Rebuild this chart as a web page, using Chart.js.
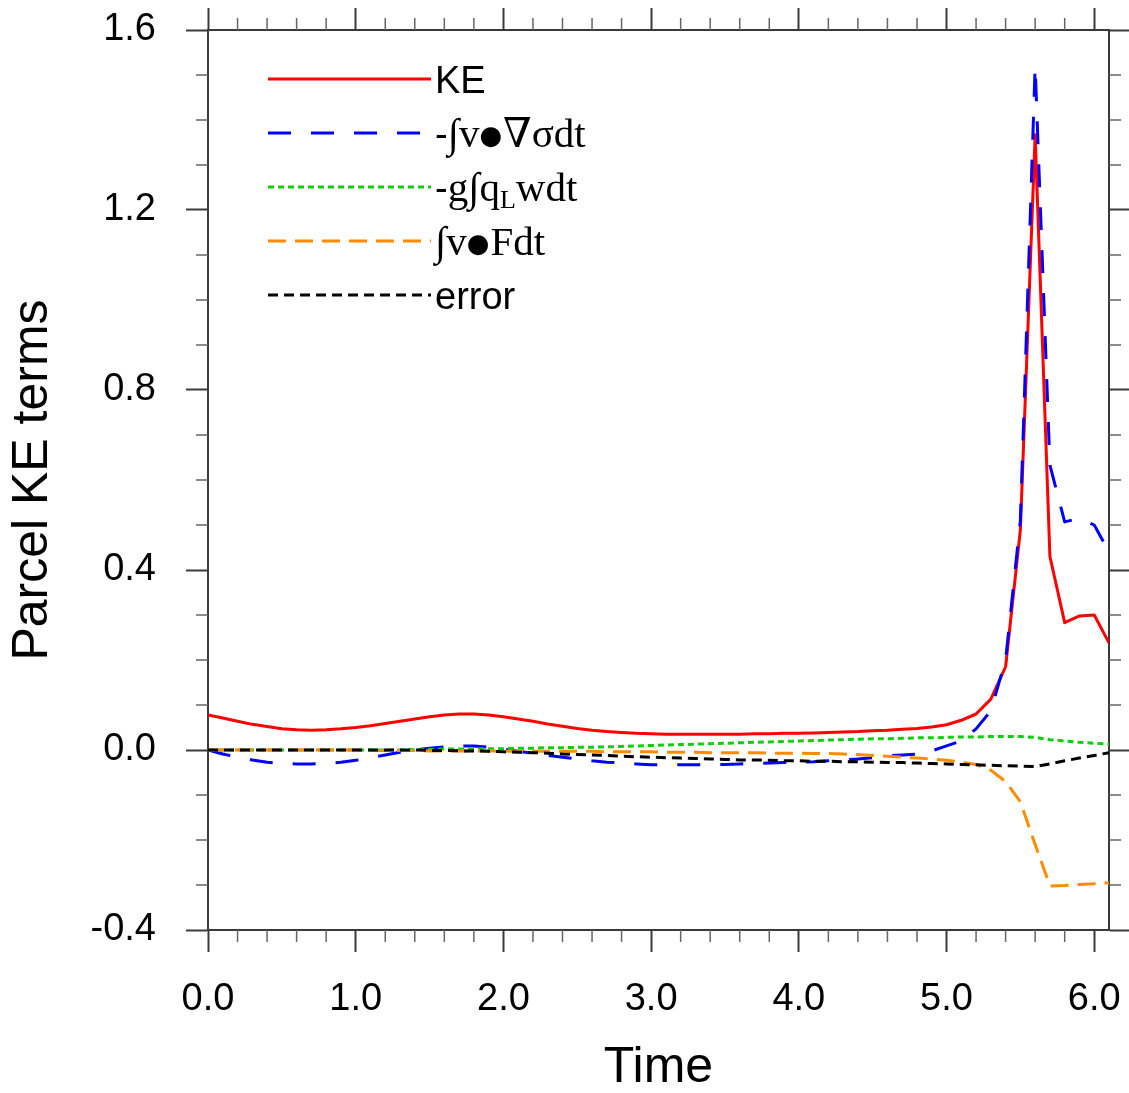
<!DOCTYPE html>
<html><head><meta charset="utf-8">
<script src="https://cdn.jsdelivr.net/npm/chart.js@4.4.1/dist/chart.umd.min.js"></script>
<style>html,body{margin:0;padding:0;background:#fff;overflow:hidden}</style>
</head><body>
<canvas id="c" width="1129" height="1093" style="display:block;width:1129px;height:1093px"></canvas>
<script>
// ---- data ----
const times = [0.0,0.1,0.2,0.3,0.4,0.5,0.6,0.7,0.8,0.9,
  1.0,1.1,1.2,1.3,1.4,1.5,1.6,1.7,1.8,1.9,
  2.0,2.1,2.2,2.3,2.4,2.5,2.6,2.7,2.8,2.9,
  3.0,3.1,3.2,3.3,3.4,3.5,3.6,3.7,3.8,3.9,
  4.0,4.1,4.2,4.3,4.4,4.5,4.6,4.7,4.8,4.9,
  5.0,5.1,5.2,5.3,5.4,5.5,5.6,5.7,5.8,5.9,
  6.0,6.1];
const keValues = [0.078,0.071,0.064,0.057,0.052,0.047,0.045,0.044,0.045,0.047,
  0.050,0.054,0.059,0.064,0.069,0.074,0.078,0.080,0.080,0.078,
  0.074,0.069,0.064,0.058,0.053,0.048,0.044,0.041,0.039,0.037,
  0.036,0.035,0.035,0.035,0.035,0.035,0.035,0.036,0.036,0.037,
  0.037,0.038,0.039,0.040,0.041,0.043,0.044,0.046,0.048,0.051,
  0.056,0.066,0.080,0.113,0.185,0.489,1.367,0.430,0.283,0.298,
  0.300,0.238];
const pressureValues = [0.000,-0.009,-0.016,-0.022,-0.027,-0.030,-0.031,-0.031,-0.030,-0.027,
  -0.023,-0.017,-0.011,-0.005,0.000,0.004,0.007,0.009,0.009,0.006,
  0.002,-0.003,-0.007,-0.012,-0.016,-0.020,-0.024,-0.027,-0.029,-0.031,
  -0.033,-0.033,-0.033,-0.033,-0.032,-0.032,-0.031,-0.030,-0.029,-0.028,
  -0.027,-0.026,-0.024,-0.022,-0.020,-0.017,-0.013,-0.011,-0.009,-0.002,
  0.009,0.020,0.047,0.087,0.200,0.510,1.520,0.633,0.507,0.515,
  0.500,0.440];
const loadingValues = [0,0,0,0,0,0,0,0,0,0,
  0,0,0,0,0.001,0.001,0.002,0.002,0.002,0.003,
  0.003,0.004,0.004,0.005,0.005,0.006,0.006,0.007,0.008,0.009,
  0.010,0.011,0.012,0.013,0.014,0.015,0.016,0.017,0.018,0.019,
  0.020,0.021,0.022,0.023,0.024,0.025,0.025,0.026,0.027,0.027,
  0.028,0.029,0.029,0.030,0.030,0.030,0.028,0.023,0.020,0.017,
  0.015,0.013];
const frictionValues = [0,0,0,0,0,0,0,0,0,0,
  0,-0.001,-0.001,-0.001,-0.001,-0.002,-0.002,-0.002,-0.002,-0.002,
  -0.003,-0.003,-0.003,-0.003,-0.003,-0.003,-0.003,-0.004,-0.004,-0.004,
  -0.004,-0.005,-0.005,-0.005,-0.006,-0.006,-0.006,-0.006,-0.007,-0.007,
  -0.007,-0.008,-0.008,-0.009,-0.010,-0.012,-0.014,-0.016,-0.018,-0.020,
  -0.023,-0.027,-0.032,-0.045,-0.070,-0.115,-0.210,-0.302,-0.301,-0.299,
  -0.297,-0.295];
const errorValues = [0,0,0,0,0,0,0,0,0,0,
  0,0,0,0,0,-0.001,-0.001,-0.002,-0.002,-0.003,
  -0.004,-0.005,-0.006,-0.007,-0.009,-0.010,-0.011,-0.012,-0.014,-0.015,
  -0.016,-0.017,-0.018,-0.019,-0.020,-0.021,-0.022,-0.022,-0.023,-0.024,
  -0.024,-0.025,-0.025,-0.026,-0.026,-0.027,-0.028,-0.028,-0.029,-0.030,
  -0.031,-0.032,-0.033,-0.034,-0.035,-0.036,-0.037,-0.031,-0.024,-0.018,
  -0.012,-0.006];
const seriesLabels = ['KE', '-\u222Bv\u25CF\u2207\u03C3dt', '-g\u222Bq\u2097wdt', '\u222Bv\u25CFFdt', 'error'];
const xTickValues = [0, 1, 2, 3, 4, 5, 6];
const yTickValues = [-0.4, 0, 0.4, 0.8, 1.2, 1.6];

// ---- styling ----
const SANS = "'Liberation Sans', Arial, Helvetica, sans-serif";
const SERIF = "'Liberation Serif', 'Times New Roman', 'DejaVu Serif', serif";
const AXIS = '#3a3a3a';

// rich-text pieces for the legend (font role per piece)
const legendRich = [
  [{t:'KE', r:'sans'}],
  [{t:'-', r:'sans'}, {t:'\u222Bv', r:'serif'}, {t:'\u25CF', r:'dot'}, {t:'\u2207\u03C3dt', r:'serif'}],
  [{t:'-', r:'sans'}, {t:'g\u222Bq', r:'serif'}, {t:'L', r:'sub'}, {t:'wdt', r:'serif'}],
  [{t:'\u222Bv', r:'serif'}, {t:'\u25CF', r:'dot'}, {t:'Fdt', r:'serif'}],
  [{t:'error', r:'sans'}]
];
const roleFont = {
  sans: '38px ' + SANS,
  serif: '41px ' + SERIF,
  dot: '26px DejaVu Sans, sans-serif',
  sub: '26px ' + SERIF
};
const roleDy = {sans:0, serif:0, dot:-3, sub:7};

const toPts = (vals) => vals.map((v, i) => ({x: times[i], y: v}));

const legendPlugin = {
  id: 'nclLegend',
  afterDraw(chart) {
    const ctx = chart.ctx;
    const x0 = 268, x1 = 431, tx = 435, yTop = 79, dy = 54;
    chart.data.datasets.forEach((ds, i) => {
      const y = yTop + i * dy;
      ctx.save();
      ctx.strokeStyle = ds.borderColor;
      ctx.lineWidth = ds.borderWidth;
      ctx.setLineDash(ds.borderDash || []);
      ctx.beginPath(); ctx.moveTo(x0, y); ctx.lineTo(x1, y); ctx.stroke();
      ctx.setLineDash([]);
      ctx.fillStyle = '#000';
      ctx.textBaseline = 'alphabetic';
      ctx.textAlign = 'left';
      let x = tx;
      for (const seg of legendRich[i]) {
        ctx.font = roleFont[seg.r];
        ctx.fillText(seg.t, x, y + 14 + roleDy[seg.r]);
        x += ctx.measureText(seg.t).width + (seg.r === 'dot' ? 1 : 0);
      }
      ctx.restore();
    });
  }
};

const minorTickPlugin = {
  id: 'minorTicks',
  afterDraw(chart) {
    const ctx = chart.ctx;
    const a = chart.chartArea;
    const xs = chart.scales.x, ys = chart.scales.y;
    ctx.save();
    ctx.strokeStyle = '#666';
    ctx.lineWidth = 1.5;
    ctx.beginPath();
    for (let k = 1; k <= 30; k++) {
      if (k % 5 === 0) continue;
      const v = k * 0.2;
      if (v > xs.max + 1e-9) break;
      const px = xs.getPixelForValue(v);
      ctx.moveTo(px, a.bottom); ctx.lineTo(px, a.bottom + 12);
      ctx.moveTo(px, a.top); ctx.lineTo(px, a.top - 12);
    }
    for (let k = -4; k <= 16; k++) {
      if (k % 4 === 0) continue;
      const py = ys.getPixelForValue(k / 10);
      ctx.moveTo(a.left, py); ctx.lineTo(a.left - 12, py);
      ctx.moveTo(a.right, py); ctx.lineTo(a.right + 12, py);
    }
    ctx.stroke();
    ctx.restore();
  }
};

const gridOpts = {drawOnChartArea: false, drawTicks: true, tickLength: 22, tickColor: AXIS, tickWidth: 2};
const borderOpts = {display: true, color: AXIS, width: 2};
const noPad = (s) => { s.paddingTop = 0; s.paddingBottom = 0; s.paddingLeft = 0; s.paddingRight = 0; };

new Chart(document.getElementById('c'), {
  type: 'line',
  data: {
    datasets: [
      {label: seriesLabels[0], data: toPts(keValues), borderColor: '#ff0000', borderWidth: 3, borderDash: [], order: 5},
      {label: seriesLabels[1], data: toPts(pressureValues), borderColor: '#0000ff', borderWidth: 3, borderDash: [23, 20], order: 4},
      {label: seriesLabels[2], data: toPts(loadingValues), borderColor: '#11cc11', borderWidth: 3, borderDash: [6, 4], order: 3},
      {label: seriesLabels[3], data: toPts(frictionValues), borderColor: '#ff8c00', borderWidth: 3, borderDash: [18, 9], order: 2},
      {label: seriesLabels[4], data: toPts(errorValues), borderColor: '#000000', borderWidth: 3, borderDash: [10, 6], order: 1}
    ]
  },
  options: {
    responsive: false,
    animation: false,
    devicePixelRatio: 1,
    layout: {padding: 0},
    elements: {
      point: {radius: 0, hoverRadius: 0},
      line: {tension: 0, borderJoinStyle: 'round', borderCapStyle: 'butt', fill: false}
    },
    plugins: {legend: {display: false}, tooltip: {enabled: false}},
    scales: {
      x: {
        type: 'linear', position: 'bottom', min: 0, max: 6.1,
        afterBuildTicks: (s) => { s.ticks = xTickValues.map(v => ({value: v})); },
        afterFit: (s) => { s.height = 163; noPad(s); },
        ticks: {includeBounds: false, color: '#000', padding: 25, maxRotation: 0,
          font: {family: SANS, size: 38}, callback: (v) => Number(v).toFixed(1)},
        grid: gridOpts, border: borderOpts,
        title: {display: true, text: 'Time', color: '#000', padding: {top: 0, bottom: 0},
          font: {family: SANS, size: 50, lineHeight: 1.0}}
      },
      x2: {
        type: 'linear', position: 'top', min: 0, max: 6.1,
        afterBuildTicks: (s) => { s.ticks = xTickValues.map(v => ({value: v})); },
        afterFit: (s) => { s.height = 30; noPad(s); },
        ticks: {display: false}, grid: gridOpts, border: borderOpts
      },
      y: {
        type: 'linear', position: 'left', min: -0.4, max: 1.6,
        afterBuildTicks: (s) => { s.ticks = yTickValues.map(v => ({value: v})); },
        afterFit: (s) => { s.width = 208; noPad(s); },
        ticks: {color: '#000', padding: 30, font: {family: SANS, size: 38},
          callback: (v) => Number(v).toFixed(1)},
        grid: gridOpts, border: borderOpts,
        title: {display: true, text: 'Parcel KE terms', color: '#000', padding: {top: 8, bottom: 0},
          font: {family: SANS, size: 50, lineHeight: 1.0}}
      },
      y2: {
        type: 'linear', position: 'right', min: -0.4, max: 1.6,
        afterBuildTicks: (s) => { s.ticks = yTickValues.map(v => ({value: v})); },
        afterFit: (s) => { s.width = 20; noPad(s); },
        ticks: {display: false}, grid: gridOpts, border: borderOpts
      }
    }
  },
  plugins: [minorTickPlugin, legendPlugin]
});
</script>
</body></html>
